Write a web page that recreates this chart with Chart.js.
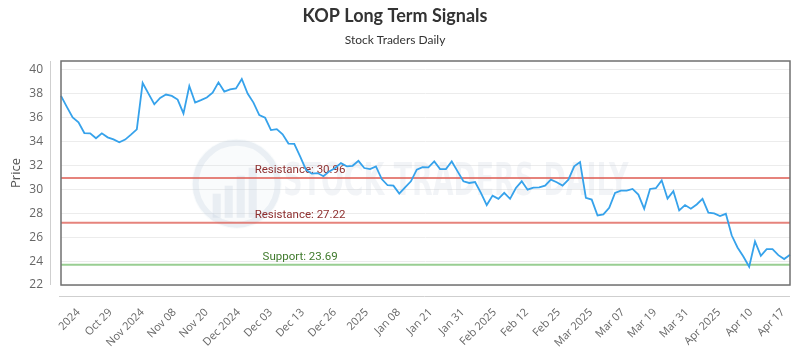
<!DOCTYPE html>
<html>
<head>
<meta charset="utf-8">
<script src="https://cdn.jsdelivr.net/npm/chart.js@4.4.1/dist/chart.umd.min.js"></script>
<style>
  html, body { margin: 0; padding: 0; background: #fff; }
  #wrap { width: 800px; height: 350px; }
</style>
</head>
<body>
<div id="wrap"><canvas id="myChart" width="800" height="350"></canvas></div>
<script>
// trading days shown on the chart
var dates = [
  '2024-10-16','2024-10-17','2024-10-18','2024-10-21','2024-10-22','2024-10-23','2024-10-24','2024-10-25','2024-10-28','2024-10-29','2024-10-30','2024-10-31',
  '2024-11-01','2024-11-04','2024-11-05','2024-11-06','2024-11-07','2024-11-08','2024-11-11','2024-11-12','2024-11-13','2024-11-14','2024-11-15','2024-11-18','2024-11-19','2024-11-20','2024-11-21','2024-11-22','2024-11-25','2024-11-26','2024-11-27','2024-11-29',
  '2024-12-02','2024-12-03','2024-12-04','2024-12-05','2024-12-06','2024-12-09','2024-12-10','2024-12-11','2024-12-12','2024-12-13','2024-12-16','2024-12-17','2024-12-18','2024-12-19','2024-12-20','2024-12-23','2024-12-24','2024-12-26','2024-12-27','2024-12-30','2024-12-31',
  '2025-01-02','2025-01-03','2025-01-06','2025-01-07','2025-01-08','2025-01-10','2025-01-13','2025-01-14','2025-01-15','2025-01-16','2025-01-17','2025-01-21','2025-01-22','2025-01-23','2025-01-24','2025-01-27','2025-01-28','2025-01-29','2025-01-30','2025-01-31',
  '2025-02-03','2025-02-04','2025-02-05','2025-02-06','2025-02-07','2025-02-10','2025-02-11','2025-02-12','2025-02-13','2025-02-14','2025-02-18','2025-02-19','2025-02-20','2025-02-21','2025-02-24','2025-02-25','2025-02-26','2025-02-27','2025-02-28',
  '2025-03-03','2025-03-04','2025-03-05','2025-03-06','2025-03-07','2025-03-10','2025-03-11','2025-03-12','2025-03-13','2025-03-14','2025-03-17','2025-03-18','2025-03-19','2025-03-20','2025-03-21','2025-03-24','2025-03-25','2025-03-26','2025-03-27','2025-03-28','2025-03-31',
  '2025-04-01','2025-04-02','2025-04-03','2025-04-04','2025-04-07','2025-04-08','2025-04-09','2025-04-10','2025-04-11','2025-04-14','2025-04-15','2025-04-16','2025-04-17'
];

var prices = [
  37.83, 36.91, 36.03, 35.61, 34.72, 34.70, 34.28, 34.70, 34.36, 34.19, 33.94, 34.17,
  34.59, 35.03, 38.91, 38.02, 37.13, 37.66, 37.94, 37.83, 37.52, 36.36, 38.66, 37.27, 37.47, 37.69, 38.10, 38.96, 38.19, 38.38, 38.46, 39.24,
  38.02, 37.27, 36.22, 36.00, 34.97, 35.05, 34.61, 33.84, 33.81, 32.76, 31.65, 31.32, 31.37, 31.10, 31.51, 31.79, 32.20, 31.93, 31.98, 32.39, 31.79,
  31.70, 31.93, 30.87, 30.35, 30.32, 29.65, 30.18, 30.68, 31.65, 31.87, 31.85, 32.34, 31.70, 31.70, 32.34, 31.51, 30.68, 30.54, 30.62, 29.71,
  28.69, 29.48, 29.21, 29.71, 29.21, 30.12, 30.68, 29.98, 30.15, 30.18, 30.32, 30.82, 30.60, 30.32, 30.82, 31.93, 32.29, 29.29, 29.15,
  27.82, 27.91, 28.46, 29.71, 29.90, 29.90, 30.04, 29.57, 28.38, 30.04, 30.10, 30.76, 29.23, 29.85, 28.24, 28.69, 28.38, 28.74, 29.21, 28.05, 27.99,
  27.77, 27.96, 26.16, 25.14, 24.39, 23.53, 25.64, 24.45, 25.00, 25.00, 24.50, 24.17, 24.53
];

var tickLabels = ['2024', 'Oct 29', 'Nov 2024', 'Nov 08', 'Nov 20', 'Dec 2024', 'Dec 03', 'Dec 13', 'Dec 26', '2025', 'Jan 08',
  'Jan 21', 'Jan 31', 'Feb 2025', 'Feb 12', 'Feb 25', 'Mar 2025', 'Mar 07', 'Mar 19', 'Mar 31', 'Apr 2025', 'Apr 10', 'Apr 17'];

var levelValues = [30.96, 27.22, 23.69];
var levelNames = ['Resistance', 'Resistance', 'Support'];

var levelLine = ['rgba(222,90,80,0.75)', 'rgba(222,90,80,0.75)', 'rgba(110,185,100,0.7)'];
var levelText = ['#8e2f2f', '#8e2f2f', '#3f7a2c'];

// watermark, level lines, frame
var decorations = {
  id: 'decorations',
  beforeDatasetsDraw: function(chart) {
    var ctx = chart.ctx, a = chart.chartArea, y = chart.scales.y;
    var w = a.right - a.left, h = a.bottom - a.top;
    ctx.save();

    // watermark logo
    var cx = a.left + w * 0.241, cy = a.top + h * 0.548, r = 45;
    ctx.fillStyle = 'rgba(215,225,235,0.15)';
    ctx.beginPath(); ctx.arc(cx, cy, r, 0, Math.PI * 2); ctx.fill();
    ctx.strokeStyle = 'rgba(200,212,225,0.3)';
    ctx.lineWidth = 6;
    ctx.beginPath(); ctx.arc(cx, cy, r - 4, 0, Math.PI * 2); ctx.stroke();
    ctx.fillStyle = 'rgba(195,208,222,0.3)';
    [[-24, 10], [-12, 2], [0, -8], [12, -16]].forEach(function(b) {
      ctx.fillRect(cx + b[0], cy + b[1], 8, 34 - b[1]);
    });
    ctx.font = 'bold 44px "Liberation Sans Narrow", "DejaVu Sans Condensed", sans-serif';
    ctx.textBaseline = 'middle';
    ctx.textAlign = 'left';
    var wm = 'STOCK TRADERS DAILY';
    var tw = ctx.measureText(wm).width;
    ctx.translate(a.left + w * 0.305, cy);
    ctx.scale(345 / tw, 1);
    ctx.fillStyle = 'rgba(200,210,222,0.24)';
    ctx.fillText(wm, 0, 0);
    ctx.setTransform(1, 0, 0, 1, 0, 0);

    // support / resistance
    ctx.lineWidth = 2;
    ctx.font = '11.5px Roboto, sans-serif';
    ctx.textAlign = 'center';
    ctx.textBaseline = 'bottom';
    levelValues.forEach(function(v, i) {
      var py = y.getPixelForValue(v);
      ctx.strokeStyle = levelLine[i];
      ctx.beginPath(); ctx.moveTo(a.left, py); ctx.lineTo(a.right, py); ctx.stroke();
      ctx.fillStyle = levelText[i];
      ctx.fillText(levelNames[i] + ': ' + v.toFixed(2), a.left + w * 0.328, py - 2);
    });

    // light axis lines
    ctx.strokeStyle = '#cfcfcf';
    ctx.lineWidth = 1;
    ctx.beginPath();
    ctx.moveTo(a.left - 10.5, a.top); ctx.lineTo(a.left - 10.5, a.bottom);
    ctx.moveTo(a.left - 2, a.bottom + 11.5); ctx.lineTo(a.right, a.bottom + 11.5);
    ctx.stroke();
    ctx.restore();
  },
  afterDatasetsDraw: function(chart) {
    var ctx = chart.ctx, a = chart.chartArea;
    ctx.save();
    ctx.strokeStyle = '#707070';
    ctx.lineWidth = 1.5;
    ctx.strokeRect(a.left, a.top, a.right - a.left, a.bottom - a.top);
    ctx.restore();
  }
};

var firstTick = 3.0, lastTick = 123.8;

var ctx = document.getElementById('myChart').getContext('2d');
var chart = new Chart(ctx, {
  type: 'line',
  data: {
    labels: dates,
    datasets: [{
      label: 'KOP',
      data: prices,
      borderColor: '#36a2eb',
      borderWidth: 1.8,
      pointRadius: 0,
      tension: 0,
      fill: false
    }]
  },
  options: {
    responsive: false,
    animation: false,
    devicePixelRatio: 1,
    layout: { padding: { left: 0, right: 10, top: 0, bottom: 0 } },
    plugins: {
      legend: { display: false },
      title: {
        display: true,
        text: 'KOP Long Term Signals',
        color: '#333',
        font: { family: 'Lato', size: 18, weight: 'bold' },
        padding: { top: 5, bottom: 6 }
      },
      subtitle: {
        display: true,
        text: 'Stock Traders Daily',
        color: '#333',
        font: { family: 'Lato', size: 12 },
        padding: { top: 0, bottom: 14 }
      }
    },
    scales: {
      x: {
        grid: { display: false },
        border: { display: false },
        afterBuildTicks: function(scale) {
          var step = (lastTick - firstTick) / (tickLabels.length - 1);
          scale.ticks = tickLabels.map(function(l, k) { return { value: firstTick + k * step }; });
        },
        afterFit: function(scale) {
          scale.paddingLeft = 0;
          scale.paddingRight = 0;
          scale.height = 65;
        },
        ticks: {
          autoSkip: false,
          minRotation: 45,
          maxRotation: 45,
          padding: 13,
          color: '#666',
          font: { family: 'Open Sans', size: 11 },
          callback: function(v, i) { return tickLabels[i]; }
        }
      },
      y: {
        min: 22,
        max: 40.75,
        grid: { color: '#ececec', drawTicks: false },
        border: { display: false },
        afterFit: function(scale) {
          scale.width = 61;
        },
        ticks: {
          stepSize: 2,
          includeBounds: false,
          padding: 18,
          color: '#666',
          font: { family: 'Open Sans', size: 12 }
        },
        title: {
          display: true,
          text: 'Price',
          color: '#555',
          font: { family: 'Open Sans', size: 13 },
          padding: { top: 8, bottom: 6 }
        }
      }
    }
  },
  plugins: [decorations]
});
</script>
</body>
</html>
